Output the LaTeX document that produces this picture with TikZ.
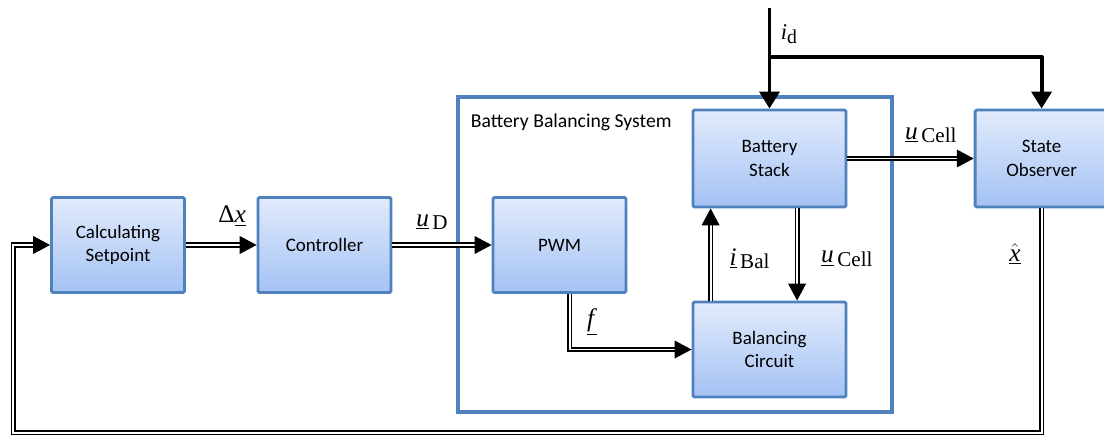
\documentclass[tikz,border=0pt]{standalone}
\usepackage{fontspec}
\setmainfont{Carlito}
\newfontfamily\lblfont{Liberation Serif}
\usetikzlibrary{arrows.meta}
\definecolor{boxedge}{RGB}{79,129,189}
\definecolor{boxtop}{RGB}{226,235,252}
\definecolor{boxbot}{RGB}{164,194,244}
\newcommand{\sig}[2]{{\lblfont\fontsize{18}{21}\selectfont\underline{\textit{#1}}\fontsize{15}{17}\selectfont\raisebox{-0.35ex}{\,#2}}}
\tikzset{
  blk/.style={draw=boxedge, line width=2pt, rounded corners=1pt, top color=boxtop, bottom color=boxbot,
    minimum width=3.325cm, minimum height=2.375cm, align=center, font=\fontsize{13.5}{16.5}\selectfont},
  wideblk/.style={blk, minimum width=3.825cm},
  dbl/.style={draw=black, line width=1.1pt, double=white, double distance=1.4pt, -{Triangle[length=12pt,width=12.5pt]}},
  thk/.style={line width=2.8pt, -{Triangle[length=12pt,width=14pt]}}
}
\begin{document}
\begin{tikzpicture}
    \useasboundingbox (0,0) rectangle (27.6,-10.925);
    \node[draw=boxedge, line width=2.3pt, minimum width=10.85cm, minimum height=7.875cm] (bbs) at (16.875,-6.3625) {};
    \node[anchor=west, font=\fontsize{14}{17}\selectfont] (bbslbl) at (11.65,-3.05) {Battery Balancing System};
    \node[blk] (calc) at (2.95,-6.125) {Calculating\\Setpoint};
    \node[blk] (ctrl) at (8.1125,-6.125) {Controller};
    \node[blk] (pwm) at (13.9875,-6.125) {PWM};
    \node[wideblk, minimum height=2.425cm] (stack) at (19.2375,-3.9625) {Battery\\Stack};
    \node[wideblk] (balc) at (19.2375,-8.7375) {Balancing\\Circuit};
    \node[blk, minimum height=2.425cm] (obs) at (26.04,-3.9625) {State\\Observer};
    \coordinate (idtop) at (19.2375,-0.2);
    \coordinate (br) at (19.2375,-1.425);
    \coordinate (fb) at (0.33,-10.82);
    \draw[thk] (idtop) -- (stack.north);
    \draw[thk, line join=round] (br) -| (obs.north);
    \draw[dbl] (calc) -- (ctrl);
    \draw[dbl] (ctrl) -- (pwm);
    \draw[dbl] ([xshift=0.26cm]pwm.south) |- (balc.west);
    \draw[dbl] ([xshift=0.475cm]balc.north west) -- ([xshift=0.475cm]stack.south west);
    \draw[dbl] ([xshift=0.69cm]stack.south) -- ([xshift=0.69cm]balc.north);
    \draw[dbl] (stack.east) -- (obs.west);
    \draw[dbl] (obs.south) |- (fb) |- (calc.west);
    \node (lid) at (19.72,-0.85) {\lblfont\fontsize{16}{19}\selectfont\textit{i}\raisebox{-0.35ex}{\fontsize{14}{16}\selectfont d}};
    \node (ldx) at (5.8,-5.4) {\lblfont\fontsize{18}{21}\selectfont Δ\underline{\textit{x}}};
    \node (lud) at (10.8,-5.55) {\sig{u}{D}};
    \node (lf) at (14.8,-8.05) {\lblfont\fontsize{18}{21}\selectfont\underline{\textit{f}}};
    \node (libal) at (18.74,-6.47) {\sig{i}{Bal}};
    \node (lucell) at (21.17,-6.47) {\sig{u}{Cell}};
    \node (lucell2) at (23.27,-3.38) {\sig{u}{Cell}};
    \node (lxhat) at (25.375,-6.35) {\lblfont\fontsize{18}{21}\selectfont$\underline{\hat{\textit{x}}}$};
\end{tikzpicture}
\end{document}
